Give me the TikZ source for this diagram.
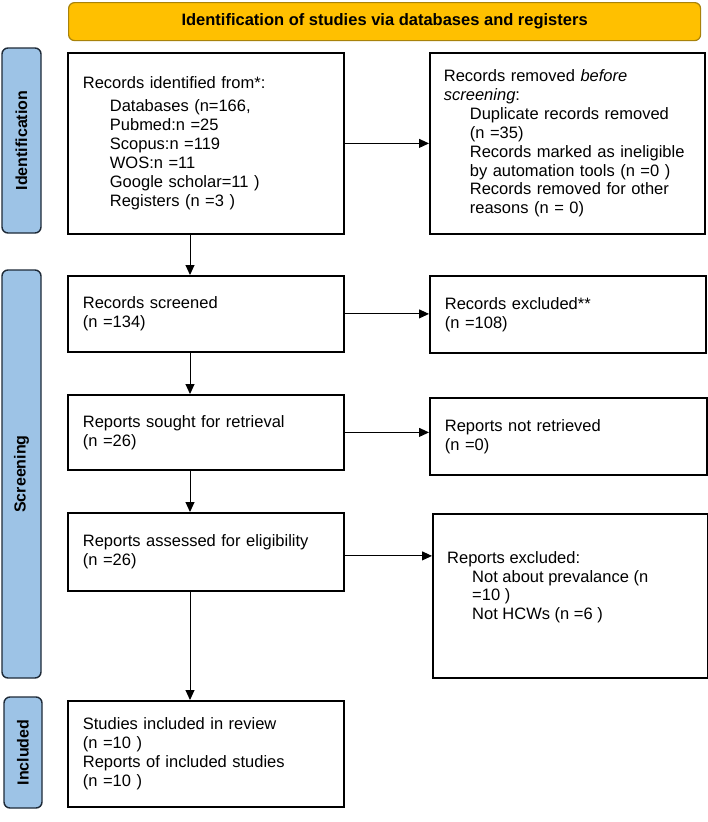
\documentclass[tikz,border=0pt]{standalone}
\usepackage{fontspec}
\setmainfont{Liberation Sans}
\usetikzlibrary{arrows.meta,calc}
\definecolor{bannerfill}{HTML}{FFC000}
\definecolor{bannerdraw}{HTML}{A8820A}
\definecolor{labelfill}{HTML}{9DC3E6}
\definecolor{labeldraw}{HTML}{1E2A38}
\newcommand{\boxfont}{\fontsize{16.5}{18.9}\selectfont}
\newcommand{\ind}{\hspace*{26pt}}
\begin{document}
\begin{tikzpicture}[x=1pt,y=-1pt,
  flowbox/.style={draw=black, line width=1.8pt, anchor=north west, align=left,
    inner xsep=15pt, inner ysep=0pt, font=\boxfont, fill=white},
  plain/.style={anchor=north west, align=left, inner sep=0pt, font=\boxfont},
  sidelab/.style={draw=labeldraw, fill=labelfill, line width=1.4pt, rounded corners=6pt,
    rotate=90, inner sep=0pt, font=\bfseries\fontsize{16}{18}\selectfont},
  banner/.style={draw=bannerdraw, fill=bannerfill, line width=1.2pt, rounded corners=6pt,
    anchor=north west, inner sep=0pt, font=\bfseries\fontsize{16.5}{18}\selectfont},
  arr/.style={draw=black, line width=1pt, -{Triangle[length=10pt,width=9pt]}}]
\useasboundingbox (0,0) rectangle (708,822);
\fill[white] (0,0) rectangle (708,822);

% banner
\node[banner, minimum width=632pt, minimum height=38pt] (ban) at (68,2)
  {Identification of studies via databases and registers};

% side labels
\node[sidelab, minimum width=185pt, minimum height=39pt] (lid) at (21.5,140.5) {Identification};
\node[sidelab, minimum width=408pt, minimum height=39pt] (lscr) at (21.5,474) {Screening};
\node[sidelab, minimum width=111pt, minimum height=38pt] (linc) at (23,752.5) {Included};

% identification boxes
\node[flowbox, text width=246pt, minimum width=276pt, minimum height=181pt] (ident) at (67,52)
  {Records identified from*:\\[4pt]
   \hspace*{27pt}Databases (n=166,\\
   \hspace*{27pt}Pubmed:n =25\\
   \hspace*{27pt}Scopus:n =119\\
   \hspace*{27pt}WOS:n =11\\
   \hspace*{27pt}Google scholar=11 )\\
   \hspace*{27pt}Registers (n =3 )};
\node[flowbox, inner xsep=14pt, text width=247pt, minimum width=275pt, minimum height=181pt] (rem) at (429,52)
  {Records removed \textit{before}\\
   \textit{screening}:\\
   \ind Duplicate records removed\\
   \ind (n =35)\\
   \ind Records marked as ineligible\\
   \ind by automation tools (n =0 )\\
   \ind Records removed for other\\
   \ind reasons (n = 0)};

% screening boxes
\node[flowbox, text width=246pt, minimum width=276pt, minimum height=76pt] (scr) at (67,275)
  {Records screened\\(n =134)};
\node[flowbox, text width=246pt, minimum width=276pt, minimum height=77pt] (exc) at (429,275)
  {Records excluded**\\(n =108)};
\node[flowbox, text width=246pt, minimum width=276pt, minimum height=75pt] (sou) at (67,394)
  {Reports sought for retrieval\\(n =26)};
\node[flowbox, text width=247pt, minimum width=277pt, minimum height=77pt] (nret) at (429,397)
  {Reports not retrieved\\(n =0)};
\node[flowbox, text width=246pt, minimum width=276pt, minimum height=78pt] (ass) at (67,512)
  {Reports assessed for eligibility\\(n =26)};
\node[flowbox, text width=245pt, minimum width=275pt, minimum height=164pt] (exc2) at (432,513) {};
\node[plain] (exc2t) at (447,551)
  {Reports excluded:\\
   \hspace*{25pt}Not about prevalance (n\\
   \hspace*{25pt}=10 )\\
   \hspace*{25pt}Not HCWs (n =6 )};

% included box
\node[flowbox, text width=246pt, minimum width=276pt, minimum height=106pt] (inc) at (67,700)
  {Studies included in review\\(n =10 )\\Reports of included studies\\(n =10 )};

% connectors
\coordinate (vx) at (190,0);
\draw[arr] (ident.east) -- (rem.west |- ident.east);
\draw[arr] (scr.east) -- (exc.west |- scr.east);
\draw[arr] (sou.east) -- (nret.west |- sou.east);
\draw[arr] ($(ass.east)+(0,4)$) -- (exc2.west |- {$(ass.east)+(0,4)$});
\draw[arr] (ident.south -| vx) -- (scr.north -| vx);
\draw[arr] (scr.south -| vx) -- (sou.north -| vx);
\draw[arr] (sou.south -| vx) -- (ass.north -| vx);
\draw[arr] (ass.south -| vx) -- (inc.north -| vx);
\end{tikzpicture}
\end{document}
